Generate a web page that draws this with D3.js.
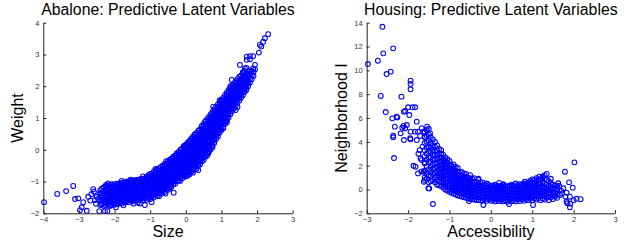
<!DOCTYPE html>
<html>
<head>
<meta charset="utf-8">
<script src="https://cdn.jsdelivr.net/npm/d3@7/dist/d3.min.js"></script>
<style>
  body { margin: 0; background: #fff; }
  svg { display: block; font-family: "Liberation Sans", Arial, sans-serif; }
  .tick text { fill: #333; font-size: 7.5px; }
  .domain, .tick line { stroke: #222; }
</style>
</head>
<body>
<div id="chart"></div>
<script>
// ---- data ----
// abalone: dense band, one column per x with the y values seen there
var abaloneBand = [
  [-2.4, [-1.74, -1.6, -1.47, -1.38, -1.27]],
  [-2.3, [-1.77, -1.55, -1.42, -1.31, -1.18]],
  [-2.2, [-1.7, -1.61, -1.5, -1.4, -1.29, -1.14]],
  [-2.1, [-1.75, -1.64, -1.53, -1.45, -1.36, -1.25, -1.09]],
  [-2.0, [-1.73, -1.65, -1.56, -1.47, -1.38, -1.29, -1.2, -1.12]],
  [-1.9, [-1.7, -1.62, -1.53, -1.44, -1.36, -1.27, -1.18, -1.08]],
  [-1.8, [-1.69, -1.6, -1.51, -1.42, -1.33, -1.24, -1.15, -1.06]],
  [-1.7, [-1.66, -1.57, -1.48, -1.39, -1.3, -1.21, -1.12, -1.03]],
  [-1.6, [-1.65, -1.56, -1.47, -1.38, -1.29, -1.2, -1.11, -1.02]],
  [-1.5, [-1.62, -1.53, -1.44, -1.35, -1.26, -1.17, -1.08, -0.99]],
  [-1.4, [-1.6, -1.51, -1.42, -1.33, -1.24, -1.15, -1.06, -0.97]],
  [-1.3, [-1.59, -1.5, -1.41, -1.32, -1.23, -1.14, -1.05, -0.95]],
  [-1.2, [-1.58, -1.49, -1.4, -1.31, -1.22, -1.13, -1.04, -0.92]],
  [-1.1, [-1.57, -1.48, -1.39, -1.3, -1.21, -1.12, -1.03, -0.94, -0.85]],
  [-1.0, [-1.55, -1.46, -1.37, -1.28, -1.19, -1.1, -1.01, -0.92, -0.83, -0.76]],
  [-0.9, [-1.5, -1.41, -1.32, -1.23, -1.14, -1.05, -0.96, -0.87, -0.78, -0.69]],
  [-0.8, [-1.45, -1.36, -1.27, -1.18, -1.09, -1.0, -0.91, -0.82, -0.73, -0.62]],
  [-0.7, [-1.39, -1.3, -1.21, -1.12, -1.03, -0.94, -0.85, -0.76, -0.67, -0.54]],
  [-0.6, [-1.33, -1.24, -1.15, -1.06, -0.97, -0.88, -0.79, -0.7, -0.61, -0.52, -0.45]],
  [-0.5, [-1.26, -1.17, -1.08, -0.99, -0.9, -0.81, -0.72, -0.63, -0.54, -0.45, -0.37]],
  [-0.4, [-1.16, -1.07, -0.98, -0.89, -0.8, -0.71, -0.62, -0.53, -0.44, -0.35, -0.28]],
  [-0.3, [-1.07, -0.98, -0.89, -0.8, -0.71, -0.62, -0.53, -0.44, -0.35, -0.26, -0.18]],
  [-0.2, [-0.97, -0.88, -0.79, -0.7, -0.61, -0.52, -0.43, -0.34, -0.25, -0.16, -0.07]],
  [-0.1, [-0.9, -0.81, -0.72, -0.63, -0.54, -0.45, -0.36, -0.27, -0.18, -0.09, 0.04]],
  [0.0, [-0.84, -0.75, -0.66, -0.57, -0.48, -0.39, -0.3, -0.21, -0.12, -0.03, 0.06, 0.16]],
  [0.1, [-0.78, -0.69, -0.6, -0.51, -0.42, -0.33, -0.24, -0.15, -0.06, 0.03, 0.12, 0.21, 0.28]],
  [0.2, [-0.72, -0.63, -0.54, -0.45, -0.36, -0.27, -0.18, -0.09, 0.0, 0.09, 0.18, 0.27, 0.36, 0.41]],
  [0.3, [-0.6, -0.51, -0.42, -0.33, -0.24, -0.15, -0.06, 0.03, 0.12, 0.21, 0.3, 0.39, 0.53]],
  [0.4, [-0.46, -0.37, -0.28, -0.19, -0.1, -0.01, 0.08, 0.17, 0.26, 0.35, 0.44, 0.53, 0.66]],
  [0.5, [-0.32, -0.23, -0.14, -0.05, 0.04, 0.13, 0.22, 0.31, 0.4, 0.49, 0.58, 0.67, 0.81]],
  [0.6, [-0.18, -0.09, 0.0, 0.09, 0.18, 0.27, 0.36, 0.45, 0.54, 0.63, 0.72, 0.81, 0.97]],
  [0.7, [0.02, 0.11, 0.2, 0.29, 0.38, 0.47, 0.56, 0.65, 0.74, 0.83, 0.92, 1.01, 1.12]],
  [0.8, [0.22, 0.31, 0.4, 0.49, 0.58, 0.67, 0.76, 0.85, 0.94, 1.03, 1.12, 1.21, 1.28]],
  [0.9, [0.42, 0.51, 0.6, 0.69, 0.78, 0.87, 0.96, 1.05, 1.14, 1.23, 1.32, 1.43]],
  [1.0, [0.62, 0.71, 0.8, 0.89, 0.98, 1.07, 1.16, 1.25, 1.34, 1.43, 1.52, 1.58]],
  [1.1, [0.81, 0.9, 0.99, 1.08, 1.17, 1.26, 1.35, 1.44, 1.53, 1.62, 1.73]],
  [1.2, [1.01, 1.1, 1.19, 1.28, 1.37, 1.46, 1.55, 1.64, 1.73, 1.82, 1.88]],
  [1.3, [1.21, 1.3, 1.39, 1.48, 1.57, 1.66, 1.75, 1.84, 1.93, 2.02]],
  [1.4, [1.39, 1.48, 1.57, 1.66, 1.75, 1.84, 1.93, 2.02, 2.11, 2.16]],
  [1.5, [1.55, 1.64, 1.73, 1.82, 1.91, 2.0, 2.09, 2.18, 2.3]],
  [1.6, [1.72, 1.81, 1.9, 1.99, 2.08, 2.17, 2.26, 2.44]],
  [1.7, [1.89, 1.98, 2.07, 2.16, 2.25, 2.4, 2.58]],
  [1.8, [2.12, 2.24, 2.36, 2.5]],
  [1.9, [2.32, 2.45]]
];

// abalone: second set of columns, in between the first ones
var abaloneBandMid = [
  [-2.35, [-1.72, -1.58, -1.5, -1.36, -1.22]],
  [-2.25, [-1.74, -1.65, -1.55, -1.45, -1.35, -1.25, -1.16]],
  [-2.15, [-1.72, -1.62, -1.52, -1.43, -1.33, -1.22, -1.12]],
  [-2.05, [-1.69, -1.6, -1.51, -1.42, -1.33, -1.24, -1.15, -1.08]],
  [-1.95, [-1.71, -1.61, -1.52, -1.43, -1.34, -1.25, -1.16, -1.07]],
  [-1.85, [-1.66, -1.57, -1.48, -1.39, -1.3, -1.21, -1.12, -1.05]],
  [-1.75, [-1.64, -1.55, -1.46, -1.37, -1.28, -1.19, -1.1, -1.03]],
  [-1.65, [-1.61, -1.52, -1.43, -1.34, -1.25, -1.16, -1.07, -1.0]],
  [-1.55, [-1.6, -1.51, -1.42, -1.33, -1.24, -1.15, -1.06, -0.98]],
  [-1.45, [-1.58, -1.49, -1.4, -1.31, -1.22, -1.13, -1.04, -0.96]],
  [-1.35, [-1.55, -1.46, -1.37, -1.28, -1.19, -1.1, -1.01, -0.94]],
  [-1.25, [-1.54, -1.45, -1.36, -1.27, -1.18, -1.09, -1.0, -0.91]],
  [-1.15, [-1.53, -1.44, -1.35, -1.26, -1.17, -1.08, -0.99, -0.9]],
  [-1.05, [-1.51, -1.42, -1.33, -1.24, -1.15, -1.06, -0.97, -0.88, -0.8]],
  [-0.95, [-1.47, -1.38, -1.29, -1.2, -1.11, -1.02, -0.93, -0.84, -0.75]],
  [-0.85, [-1.43, -1.34, -1.25, -1.16, -1.07, -0.98, -0.89, -0.8, -0.71, -0.65]],
  [-0.75, [-1.37, -1.28, -1.19, -1.1, -1.01, -0.92, -0.83, -0.74, -0.65, -0.58]],
  [-0.65, [-1.31, -1.22, -1.13, -1.04, -0.95, -0.86, -0.77, -0.68, -0.59, -0.5]],
  [-0.55, [-1.25, -1.16, -1.07, -0.98, -0.89, -0.8, -0.71, -0.62, -0.53, -0.44]],
  [-0.45, [-1.17, -1.08, -0.99, -0.9, -0.81, -0.72, -0.63, -0.54, -0.45, -0.36, -0.31]],
  [-0.35, [-1.08, -0.99, -0.9, -0.81, -0.72, -0.63, -0.54, -0.45, -0.36, -0.27, -0.22]],
  [-0.25, [-0.98, -0.89, -0.8, -0.71, -0.62, -0.53, -0.44, -0.35, -0.26, -0.17, -0.11]],
  [-0.15, [-0.9, -0.81, -0.72, -0.63, -0.54, -0.45, -0.36, -0.27, -0.18, -0.09, 0.0]],
  [-0.05, [-0.83, -0.74, -0.65, -0.56, -0.47, -0.38, -0.29, -0.2, -0.11, -0.02, 0.07, 0.11]],
  [0.05, [-0.77, -0.68, -0.59, -0.5, -0.41, -0.32, -0.23, -0.14, -0.05, 0.04, 0.13, 0.22]],
  [0.15, [-0.7, -0.61, -0.52, -0.43, -0.34, -0.25, -0.16, -0.07, 0.02, 0.11, 0.2, 0.29, 0.35]],
  [0.25, [-0.62, -0.53, -0.44, -0.35, -0.26, -0.17, -0.08, 0.01, 0.1, 0.19, 0.28, 0.37, 0.47]],
  [0.35, [-0.5, -0.41, -0.32, -0.23, -0.14, -0.05, 0.04, 0.13, 0.22, 0.31, 0.4, 0.49, 0.6]],
  [0.45, [-0.36, -0.27, -0.18, -0.09, 0.0, 0.09, 0.18, 0.27, 0.36, 0.45, 0.54, 0.63, 0.73]],
  [0.55, [-0.22, -0.13, -0.04, 0.05, 0.14, 0.23, 0.32, 0.41, 0.5, 0.59, 0.68, 0.77, 0.89]],
  [0.65, [-0.06, 0.03, 0.12, 0.21, 0.3, 0.39, 0.48, 0.57, 0.66, 0.75, 0.84, 0.93, 1.04]],
  [0.75, [0.14, 0.23, 0.32, 0.41, 0.5, 0.59, 0.68, 0.77, 0.86, 0.95, 1.04, 1.13, 1.2]],
  [0.85, [0.34, 0.43, 0.52, 0.61, 0.7, 0.79, 0.88, 0.97, 1.06, 1.15, 1.24, 1.35]],
  [0.95, [0.54, 0.63, 0.72, 0.81, 0.9, 0.99, 1.08, 1.17, 1.26, 1.35, 1.44, 1.5]],
  [1.05, [0.72, 0.81, 0.9, 0.99, 1.08, 1.17, 1.26, 1.35, 1.44, 1.53, 1.64]],
  [1.15, [0.92, 1.01, 1.1, 1.19, 1.28, 1.37, 1.46, 1.55, 1.64, 1.73, 1.8]],
  [1.25, [1.12, 1.21, 1.3, 1.39, 1.48, 1.57, 1.66, 1.75, 1.84, 1.95]],
  [1.35, [1.3, 1.39, 1.48, 1.57, 1.66, 1.75, 1.84, 1.93, 2.02, 2.09]],
  [1.45, [1.48, 1.57, 1.66, 1.75, 1.84, 1.93, 2.02, 2.11, 2.22]],
  [1.55, [1.64, 1.73, 1.82, 1.91, 2.0, 2.09, 2.18, 2.34]],
  [1.65, [1.82, 1.91, 2.0, 2.09, 2.18, 2.3, 2.48]],
  [1.75, [2.0, 2.1, 2.2, 2.32, 2.45]],
  [1.85, [2.22, 2.34, 2.48]]
];

// abalone: loose points around the band
var abaloneLoose = [
  [-3.98, -1.65], [-3.61, -1.39], [-3.36, -1.3], [-3.16, -1.14], [-3.11, -1.55], [-3.02, -1.53],
  [-2.97, -1.9], [-2.92, -1.81], [-2.78, -1.92], [-2.88, -1.65], [-2.74, -1.48], [-2.6, -1.24],
  [-2.5, -1.48], [-2.43, -1.93], [-2.27, -1.93], [-2.2, -1.93], [-2.36, -1.69], [-2.55, -1.58],
  [-2.41, -1.37], [-2.24, -1.11], [-2.18, -1.06], [-0.96, -1.65], [-1.29, -1.69], [-1.47, -1.69],
  [-1.15, -1.74], [-2.13, -1.77], [-1.96, -1.81], [-2.65, -1.4], [-2.58, -1.32], [-2.68, -1.6],
  [-2.52, -1.7], [-2.46, -1.55], [-0.57, -1.38], [-0.34, -1.35], [-0.16, -0.98], [0.12, -0.72],
  [0.63, -0.11], [0.45, 0.75], [0.77, 1.36], [1.29, 2.2], [1.4, 1.25], [1.69, 1.9], [1.75, 2.14],
  [1.57, 2.25], [1.61, 2.41], [1.66, 2.56], [1.8, 2.46], [1.89, 2.56], [1.94, 2.67], [1.52, 2.67],
  [1.71, 2.83], [1.8, 2.95], [1.89, 2.95], [2.05, 3.06], [2.08, 3.3], [2.12, 3.25], [2.17, 3.4],
  [2.22, 3.51], [2.31, 3.64], [1.94, 2.53], [1.71, 2.93], [1.8, 2.85],
  [-1.8, -0.98], [-1.55, -0.94], [-1.2, -0.84], [-0.85, -0.6], [-0.55, -0.36], [-0.05, 0.12],
  [0.25, 0.48], [0.55, 0.9], [0.95, 1.55], [1.25, 2.0], [-1.75, -1.75], [-1.35, -1.66],
  [-0.75, -1.46], [-0.45, -1.22], [0.05, -0.82], [0.35, -0.64], [0.75, 0.08], [1.05, 0.68],
  [1.45, 1.35], [1.15, 0.86]
];

// housing: dense band, one column per x
var housingBand = [
  [-1.6, [1.0, 1.6, 2.2, 2.8, 3.3, 3.9, 4.4, 4.8]],
  [-1.5, [0.6, 1.2, 1.7, 2.3, 2.7, 3.2, 3.6, 4.1, 4.6, 5.1]],
  [-1.4, [0.8, 1.3, 1.7, 2.1, 2.5, 2.9, 3.3, 3.7, 4.2]],
  [-1.3, [0.4, 0.8, 1.2, 1.5, 1.9, 2.2, 2.6, 2.9, 3.3, 3.7]],
  [-1.2, [0.3, 0.6, 0.9, 1.2, 1.5, 1.8, 2.1, 2.4, 2.7, 3.0, 3.3]],
  [-1.1, [0.0, 0.3, 0.6, 0.9, 1.2, 1.5, 1.8, 2.1, 2.4, 2.7]],
  [-1.0, [-0.2, 0.05, 0.3, 0.55, 0.8, 1.05, 1.3, 1.55, 1.8, 2.1, 2.4]],
  [-0.9, [-0.35, -0.1, 0.15, 0.4, 0.65, 0.9, 1.15, 1.4, 1.65, 1.9, 2.1]],
  [-0.8, [-0.5, -0.25, 0.0, 0.25, 0.5, 0.75, 1.0, 1.25, 1.5, 1.8]],
  [-0.7, [-0.6, -0.35, -0.1, 0.15, 0.4, 0.65, 0.9, 1.15, 1.45]],
  [-0.6, [-0.7, -0.45, -0.2, 0.05, 0.3, 0.55, 0.8, 1.05, 1.3]],
  [-0.5, [-0.8, -0.55, -0.3, -0.05, 0.2, 0.45, 0.7, 0.95, 1.2]],
  [-0.4, [-0.85, -0.6, -0.35, -0.1, 0.15, 0.4, 0.65, 0.95]],
  [-0.3, [-0.9, -0.65, -0.4, -0.15, 0.1, 0.35, 0.6, 0.8]],
  [-0.2, [-0.95, -0.7, -0.45, -0.2, 0.05, 0.3, 0.6]],
  [-0.1, [-0.95, -0.7, -0.45, -0.2, 0.05, 0.3, 0.5]],
  [0.0, [-0.95, -0.7, -0.45, -0.2, 0.05, 0.3]],
  [0.1, [-1.0, -0.75, -0.5, -0.25, 0.0, 0.25, 0.4]],
  [0.2, [-0.98, -0.73, -0.48, -0.23, 0.02, 0.27]],
  [0.3, [-1.0, -0.75, -0.5, -0.25, 0.0, 0.25, 0.38]],
  [0.4, [-1.02, -0.77, -0.52, -0.27, -0.02, 0.23]],
  [0.5, [-0.98, -0.73, -0.48, -0.23, 0.02, 0.27, 0.4]],
  [0.6, [-1.0, -0.75, -0.5, -0.25, 0.0, 0.25]],
  [0.7, [-0.97, -0.72, -0.47, -0.22, 0.03, 0.28, 0.45]],
  [0.8, [-0.95, -0.7, -0.45, -0.2, 0.05, 0.3, 0.5]],
  [0.9, [-0.9, -0.65, -0.4, -0.15, 0.1, 0.35, 0.6]],
  [1.0, [-0.9, -0.65, -0.4, -0.15, 0.1, 0.35, 0.6, 0.85]],
  [1.1, [-0.85, -0.6, -0.35, -0.1, 0.15, 0.4, 0.7, 0.95]],
  [1.2, [-0.9, -0.6, -0.35, -0.1, 0.15, 0.45, 0.8]],
  [1.3, [-0.85, -0.55, -0.3, -0.05, 0.2, 0.5, 0.9, 1.2]],
  [1.4, [-0.9, -0.6, -0.3, 0.0, 0.3, 0.7]],
  [1.5, [-0.8, -0.5, -0.2, 0.1, 0.4]],
  [1.6, [-0.7, -0.4, -0.1, 0.3]]
];

// housing: second set of columns, in between
var housingBandMid = [
  [-1.55, [0.9, 1.4, 1.9, 2.5, 3.0, 3.5, 4.0, 4.5]],
  [-1.45, [0.7, 1.1, 1.5, 1.9, 2.3, 2.7, 3.1, 3.5, 3.9, 4.4]],
  [-1.35, [0.6, 1.0, 1.4, 1.8, 2.2, 2.5, 2.9, 3.2, 3.6, 4.0]],
  [-1.25, [0.35, 0.7, 1.05, 1.35, 1.7, 2.0, 2.35, 2.65, 3.0, 3.4]],
  [-1.15, [0.15, 0.45, 0.75, 1.05, 1.35, 1.65, 1.95, 2.25, 2.55, 2.9]],
  [-1.05, [-0.1, 0.18, 0.45, 0.7, 0.95, 1.2, 1.45, 1.7, 1.95, 2.25, 2.55]],
  [-0.95, [-0.28, -0.02, 0.22, 0.48, 0.72, 0.98, 1.22, 1.48, 1.72, 2.0]],
  [-0.85, [-0.42, -0.18, 0.08, 0.32, 0.58, 0.82, 1.08, 1.32, 1.6, 1.9]],
  [-0.75, [-0.55, -0.3, -0.05, 0.2, 0.45, 0.7, 0.95, 1.2, 1.5]],
  [-0.65, [-0.65, -0.4, -0.15, 0.1, 0.35, 0.6, 0.85, 1.1, 1.35]],
  [-0.55, [-0.75, -0.5, -0.25, 0.0, 0.25, 0.5, 0.75, 1.0]],
  [-0.45, [-0.82, -0.58, -0.32, -0.08, 0.18, 0.42, 0.68, 0.9]],
  [-0.35, [-0.88, -0.62, -0.38, -0.12, 0.12, 0.38, 0.62]],
  [-0.25, [-0.92, -0.68, -0.42, -0.18, 0.08, 0.32, 0.55]],
  [-0.15, [-0.82, -0.58, -0.32, -0.08, 0.18, 0.4]],
  [-0.05, [-0.82, -0.58, -0.32, -0.08, 0.18, 0.38]],
  [0.05, [-0.88, -0.62, -0.38, -0.12, 0.12, 0.32]],
  [0.15, [-0.86, -0.62, -0.36, -0.12, 0.14, 0.3]],
  [0.25, [-0.88, -0.62, -0.38, -0.12, 0.12, 0.3]],
  [0.35, [-0.9, -0.64, -0.4, -0.14, 0.1, 0.3]],
  [0.45, [-0.86, -0.6, -0.36, -0.1, 0.14, 0.32]],
  [0.55, [-0.88, -0.62, -0.38, -0.12, 0.12, 0.35]],
  [0.65, [-0.86, -0.6, -0.36, -0.1, 0.14, 0.38]],
  [0.75, [-0.84, -0.58, -0.34, -0.08, 0.16, 0.4]],
  [0.85, [-0.8, -0.55, -0.3, -0.05, 0.2, 0.45]],
  [0.95, [-0.78, -0.52, -0.28, -0.02, 0.22, 0.48, 0.72]],
  [1.05, [-0.75, -0.5, -0.25, 0.0, 0.25, 0.5, 0.8]],
  [1.15, [-0.72, -0.48, -0.22, 0.02, 0.28, 0.55, 0.85]],
  [1.25, [-0.75, -0.48, -0.22, 0.02, 0.3, 0.6, 1.0]],
  [1.35, [-0.7, -0.42, -0.15, 0.1, 0.4, 0.8]],
  [1.45, [-0.65, -0.35, -0.05, 0.2, 0.5]],
  [1.55, [-0.55, -0.25, 0.05, 0.35]]
];

// housing: loose points
var housingLoose = [
  [-2.97, 10.53], [-2.73, 10.81], [-2.62, 13.66], [-2.6, 11.43], [-2.66, 7.85], [-2.52, 9.69],
  [-2.42, 9.89], [-2.54, 6.5], [-2.36, 11.85], [-2.38, 5.97], [-2.32, 5.27], [-2.36, 4.51],
  [-2.36, 4.38], [-2.34, 2.64], [-2.26, 6.05], [-2.16, 7.79], [-2.18, 4.71], [-2.14, 5.18],
  [-2.1, 4.15], [-2.07, 6.59], [-2.03, 5.41], [-2.0, 6.9], [-1.94, 9.13], [-1.94, 8.85],
  [-1.94, 8.41], [-1.97, 6.25], [-1.94, 4.85], [-1.94, 4.21], [-1.89, 6.9], [-1.83, 6.9],
  [-1.79, 5.69], [-2.11, 5.33], [-2.07, 5.14], [-2.28, 6.11], [-2.1, 6.53], [-1.95, 4.3],
  [-1.87, 1.99], [-1.82, 1.91], [-1.76, 1.35], [-1.62, 1.49], [-1.62, 0.65], [-1.49, 0.09],
  [-1.4, -1.22], [-1.67, 2.47], [-1.54, 5.27], [-1.59, 0.8], [-1.51, 0.1],
  [-1.83, 4.85], [-1.76, 4.85], [-1.67, 5.14], [-1.63, 4.85], [-1.55, 5.0], [-1.47, 4.72],
  [-1.71, 4.49], [-1.59, 4.4], [-1.79, 4.15], [-1.75, 3.0], [-1.7, 2.6], [-1.65, 3.6],
  [-1.72, 3.3], [-1.6, 2.3], [-1.68, 1.5],
  [2.02, 2.28], [1.79, 1.49], [1.89, 0.6], [1.98, 0.15], [1.83, -0.27], [1.91, -0.61],
  [2.07, -0.78], [2.17, -0.82], [1.85, -1.16], [1.92, -1.19], [1.91, -1.5], [1.67, -0.46],
  [1.63, 0.52], [1.35, 1.3], [1.17, 1.07], [1.02, -1.3], [0.44, -1.22], [-0.18, -1.3],
  [0.82, 0.65], [-0.53, -0.97], [0.95, 0.57], [1.72, -0.33], [1.83, -1.03], [1.65, 0.29],
  [1.7, -0.1], [1.75, 0.1], [1.55, -0.6], [1.6, 0.05], [1.45, 0.9], [1.25, 1.1], [1.8, -0.6],
  [2.0, -0.9], [0.2, 0.55], [0.6, 0.5], [-0.3, 0.9], [0.3, 0.45]
];

var abaloneXTicks = [-4, -3, -2, -1, 0, 1, 2, 3];
var abaloneYTicks = [-2, -1, 0, 1, 2, 3, 4];
var housingXTicks = [-3, -2, -1, 0, 1, 2, 3];
var housingYTicks = [-2, 0, 2, 4, 6, 8, 10, 12, 14];

function flatten(bands, loose) {
  var pts = [];
  bands.forEach(function(band) {
    band.forEach(function(col) {
      col[1].forEach(function(y) { pts.push([col[0], y]); });
    });
  });
  return pts.concat(loose);
}

var svgWidth = 628, svgHeight = 243;
var svg = d3.select("#chart").append("svg")
  .attr("width", svgWidth)
  .attr("height", svgHeight);

var fmt = d3.format("d");

function drawPanel(opt) {
  var xScale = d3.scaleLinear().domain(opt.xDomain).range([opt.left, opt.right]);
  var yScale = d3.scaleLinear().domain(opt.yDomain).range([213.3, 22.7]);

  var g = svg.append("g");

  // points
  g.append("g")
    .selectAll("circle")
    .data(opt.points)
    .enter()
    .append("circle")
    .attr("cx", d => xScale(d[0]))
    .attr("cy", d => yScale(d[1]))
    .attr("r", 2.4)
    .attr("fill", "none")
    .attr("stroke", "#0000ff")
    .attr("stroke-width", 1.05);

  // axes, ticks point inward like matlab
  g.append("g")
    .attr("transform", `translate(0, ${yScale.range()[0]})`)
    .call(d3.axisBottom(xScale).tickValues(opt.xTicks).tickFormat(fmt)
      .tickSizeInner(-3).tickSizeOuter(0).tickPadding(3.5));

  g.append("g")
    .attr("transform", `translate(${opt.left}, 0)`)
    .call(d3.axisLeft(yScale).tickValues(opt.yTicks).tickFormat(fmt)
      .tickSizeInner(-3).tickSizeOuter(0).tickPadding(4));

  g.selectAll(".domain").attr("stroke-width", 1);

  // title and labels
  var cx = (opt.left + opt.right) / 2;
  g.append("text")
    .attr("x", cx).attr("y", 15)
    .attr("text-anchor", "middle")
    .style("font-size", "15.8px")
    .text(opt.title);

  g.append("text")
    .attr("x", cx).attr("y", 237)
    .attr("text-anchor", "middle")
    .style("font-size", "16px")
    .text(opt.xLabel);

  g.append("text")
    .attr("transform", `translate(${opt.left - 20}, 118) rotate(-90)`)
    .attr("text-anchor", "middle")
    .style("font-size", "16px")
    .text(opt.yLabel);
}

drawPanel({
  left: 43.3, right: 292.7,
  xDomain: [-4, 3], yDomain: [-2, 4],
  xTicks: abaloneXTicks, yTicks: abaloneYTicks,
  points: flatten([abaloneBand, abaloneBandMid], abaloneLoose),
  title: "Abalone: Predictive Latent Variables",
  xLabel: "Size", yLabel: "Weight"
});

drawPanel({
  left: 366.7, right: 615,
  xDomain: [-3, 3], yDomain: [-2, 14],
  xTicks: housingXTicks, yTicks: housingYTicks,
  points: flatten([housingBand, housingBandMid], housingLoose),
  title: "Housing: Predictive Latent Variables",
  xLabel: "Accessibility", yLabel: "Neighborhood I"
});
</script>
</body>
</html>
